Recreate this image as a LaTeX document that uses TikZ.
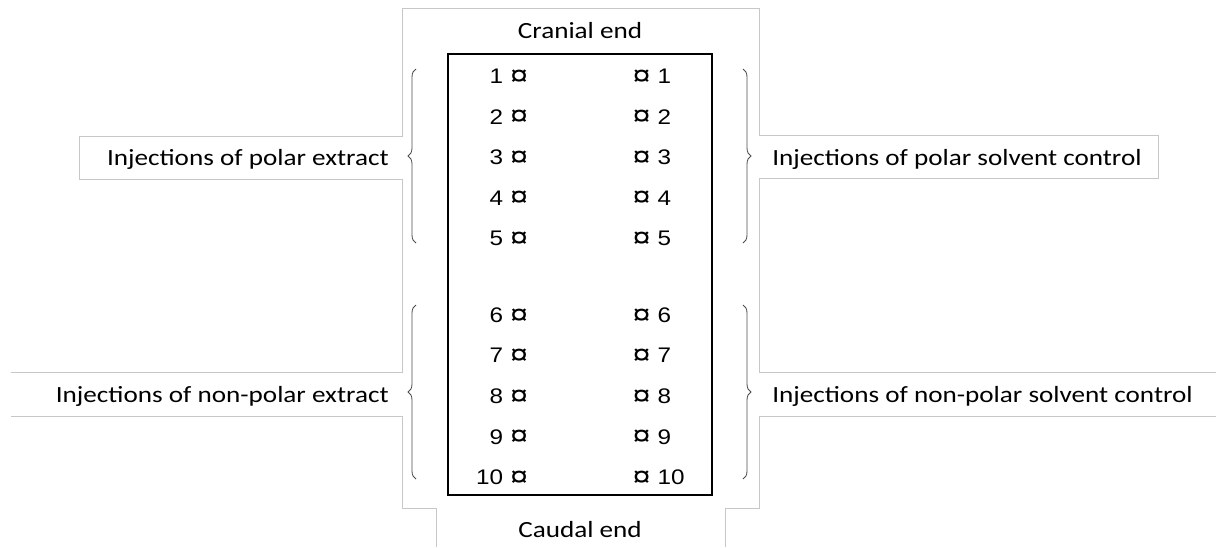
\documentclass[tikz,border=0pt]{standalone}
\usepackage{fontspec}
\setmainfont{Carlito}[FakeStretch=1.17]
\newfontfamily\sitefont{Liberation Sans}[FakeStretch=1.15]
\usepackage{tikz}
\usetikzlibrary{positioning,decorations.pathreplacing}
\newcommand{\sitemark}{\raisebox{-1.3pt}{\fontsize{20}{20}\selectfont ¤}}
\tikzset{
  frameline/.style={draw=black!22, line width=0.025cm},
  bodybox/.style={rectangle, draw, line width=0.05cm, minimum width=6.6cm, minimum height=11.025cm},
  site/.style={font=\sitefont\fontsize{15}{18}\selectfont, text width=1.5cm, minimum height=1cm, inner sep=0pt},
  lsite/.style={site, align=right},
  rsite/.style={site, align=left},
  endlabel/.style={font=\fontsize{16.5}{19}\selectfont, inner sep=0pt},
  grouplabel/.style={font=\fontsize{16.5}{19}\selectfont, inner sep=0pt},
  bracket/.style={decorate, decoration={brace, amplitude=0.2cm}, draw=black!70, line width=0.6pt},
}

\begin{document}
\begin{tikzpicture}[x=0.025cm, y=-0.025cm]
  \useasboundingbox (0,0) rectangle (1216,547);

  % text box outlines
  \draw[frameline] (436,547) -- (436,508) -- (402,508) -- (402,416) -- (11,416);
  \draw[frameline] (11,372) -- (402,372) -- (402,179) -- (79,179) -- (79,136) -- (402,136)
    -- (402,8) -- (759,8) -- (759,135) -- (1158,135) -- (1158,178) -- (759,178) -- (759,372) -- (1216,372);
  \draw[frameline] (1216,416) -- (759,416) -- (759,508) -- (725,508) -- (725,547);

  \node[bodybox] (body) at (580,274.5) {};
  \node[endlabel] (cranial) at (580,31) {Cranial end};
  \node[endlabel] (caudal) at (580,530) {Caudal end};

  % left side
  \node[lsite] (l1) at (498,77) {1 \sitemark};
  \node[lsite] (l2) [below=0pt of l1] {2 \sitemark};
  \node[lsite] (l3) [below=0pt of l2] {3 \sitemark};
  \node[lsite] (l4) [below=0pt of l3] {4 \sitemark};
  \node[lsite] (l5) [below=0pt of l4] {5 \sitemark};
  \node[lsite] (l6) [below=0.9cm of l5] {6 \sitemark};
  \node[lsite] (l7) [below=0pt of l6] {7 \sitemark};
  \node[lsite] (l8) [below=0pt of l7] {8 \sitemark};
  \node[lsite] (l9) [below=0pt of l8] {9 \sitemark};
  \node[lsite] (l10) [below=0pt of l9] {10 \sitemark};

  % right side
  \node[rsite] (r1) [right=2.6cm of l1] {\sitemark{} 1};
  \node[rsite] (r2) [below=0pt of r1] {\sitemark{} 2};
  \node[rsite] (r3) [below=0pt of r2] {\sitemark{} 3};
  \node[rsite] (r4) [below=0pt of r3] {\sitemark{} 4};
  \node[rsite] (r5) [below=0pt of r4] {\sitemark{} 5};
  \node[rsite] (r6) [below=0.9cm of r5] {\sitemark{} 6};
  \node[rsite] (r7) [below=0pt of r6] {\sitemark{} 7};
  \node[rsite] (r8) [below=0pt of r7] {\sitemark{} 8};
  \node[rsite] (r9) [below=0pt of r8] {\sitemark{} 9};
  \node[rsite] (r10) [below=0pt of r9] {\sitemark{} 10};

  \coordinate (pe top) at (416,69);
  \coordinate (pe bot) at (416,243);
  \coordinate (ne top) at (416,305);
  \coordinate (ne bot) at (416,479);
  \coordinate (ps top) at (743,69);
  \coordinate (ps bot) at (743,243);
  \coordinate (ns top) at (743,305);
  \coordinate (ns bot) at (743,479);

  \draw[bracket] (pe bot) -- (pe top);
  \draw[bracket] (ne bot) -- (ne top);
  \draw[bracket] (ps top) -- (ps bot);
  \draw[bracket] (ns top) -- (ns bot);

  \node[grouplabel, anchor=east] (polext) at (389,159) {Injections of polar extract};
  \node[grouplabel, anchor=east] (nonpolext) at (389,396) {Injections of non-polar extract};
  \node[grouplabel, anchor=west] (polsolv) at (772,159) {Injections of polar solvent control};
  \node[grouplabel, anchor=west] (nonpolsolv) at (772,396) {Injections of non-polar solvent control};
\end{tikzpicture}
\end{document}
